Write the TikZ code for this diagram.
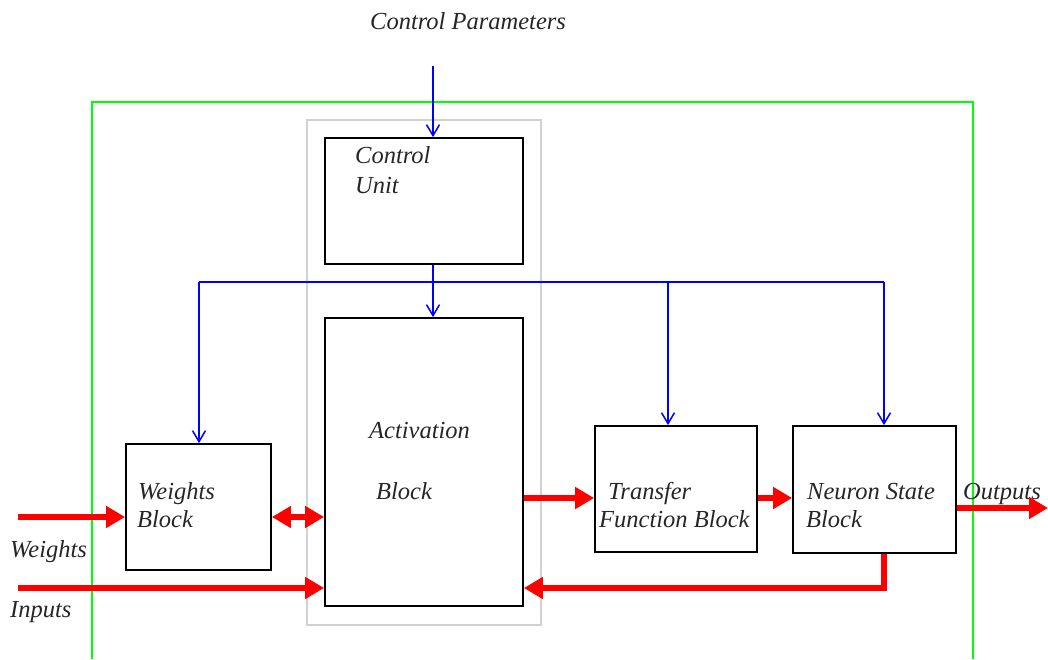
\documentclass[tikz,border=0pt]{standalone}
\usepackage{fontspec}
\setmainfont{Liberation Serif}
\usetikzlibrary{arrows.meta}

\tikzset{
  blk/.style={draw=black, line width=1.8pt, rectangle, inner sep=0pt},
  lbl/.style={anchor=base west, inner sep=0pt, font=\fontsize{24.5pt}{27pt}\selectfont\itshape, text=black!85},
  ctl/.style={draw=blue, line width=1.5pt, -{Straight Barb[length=11pt,width=13pt]}},
  bus/.style={draw=blue, line width=1.5pt},
  redtip/.tip={Triangle[length=19pt,width=21pt]},
  sig/.style={draw=red, line width=6pt, -redtip},
  sigboth/.style={draw=red, line width=6pt, redtip-redtip},
  frame/.style={draw=green, line width=2pt},
  group/.style={draw=black!18, line width=1.5pt}
}

\begin{document}
\begin{tikzpicture}[x=1pt, y=-1pt]
\useasboundingbox (0,0) rectangle (1048,659);

% outer module border (open at the bottom)
\draw[frame] (92,659) -- (92,102) -- (973,102) -- (973,659);
% grouping of control unit and activation block
\draw[group] (307,120) rectangle (541,625);

% blocks
\node[blk, minimum width=198pt, minimum height=126pt] (cu)  at (424,201) {};
\node[blk, minimum width=198pt, minimum height=288pt] (act) at (424,462) {};
\node[blk, minimum width=145pt, minimum height=126pt] (wb)  at (198.5,507) {};
\node[blk, minimum width=162pt, minimum height=126pt] (tf)  at (676,489) {};
\node[blk, minimum width=163pt, minimum height=127pt] (ns)  at (874.5,489.5) {};

% block texts
\node[lbl] (cuT1) at (355,163) {Control};
\node[lbl] (cuT2) at (355,193) {Unit};
\node[lbl] (acT1) at (369,438) {Activation};
\node[lbl] (acT2) at (376,499) {Block};
\node[lbl] (wbT1) at (138,499) {Weights};
\node[lbl] (wbT2) at (137,527) {Block};
\node[lbl] (tfT1) at (608,499) {Transfer};
\node[lbl] (tfT2) at (599,527) {Function Block};
\node[lbl] (nsT1) at (807,499) {Neuron State};
\node[lbl] (nsT2) at (806,527) {Block};

% external labels
\node[lbl] (cpT)  at (370,29)  {Control Parameters};
\node[lbl] (wT)   at (10,557)  {Weights};
\node[lbl] (inT)  at (10,617)  {Inputs};
\node[lbl] (outT) at (963,499) {Outputs};

% control signals
\coordinate (cpIn) at (433,66);
\coordinate (busL) at (199,282);
\coordinate (busR) at (884,282);
\coordinate (tapT) at (668,282);
\draw[ctl] (cpIn) -- (cpIn |- cu.north);
\draw[ctl] (cpIn |- cu.south) -- (cpIn |- act.north);
\draw[bus] (busL) -- (busR);
\draw[ctl] (busL) -- (busL |- wb.north);
\draw[ctl] (tapT) -- (tapT |- tf.north);
\draw[ctl] (busR) -- (busR |- ns.north);

% data paths
\coordinate (wIn)  at (18,517);
\coordinate (iIn)  at (18,588);
\coordinate (mid)  at (0,498);
\coordinate (oOut) at (1048,508);
\coordinate (fb)   at (884,588);
\draw[sig] (wIn) -- (wIn -| wb.west);
\draw[sigboth] (wIn -| wb.east) -- (wIn -| act.west);
\draw[sig] (iIn) -- (iIn -| act.west);
\draw[sig] (mid -| act.east) -- (mid -| tf.west);
\draw[sig] (mid -| tf.east) -- (mid -| ns.west);
\draw[sig] (oOut -| ns.east) -- (oOut);
\draw[sig, line join=miter] (fb |- ns.south) -- (fb) -- (fb -| act.east);
\end{tikzpicture}
\end{document}
